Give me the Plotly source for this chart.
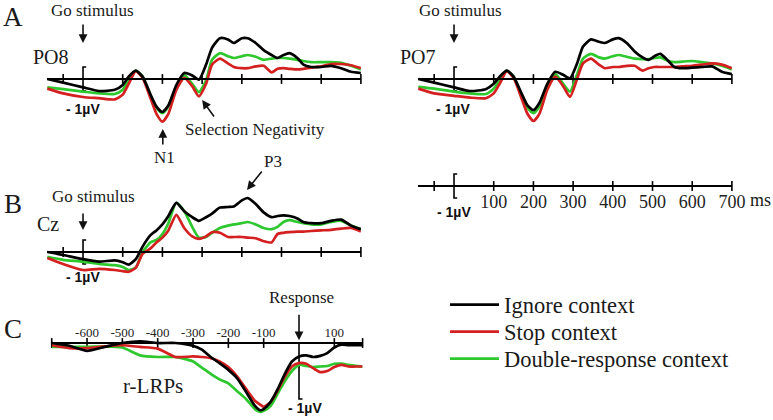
import plotly.graph_objects as go

# ---------------- data ----------------
t_ms = [-90, -50, 0, 40, 80, 100, 115, 133, 150, 170, 185, 200, 215, 235, 255, 275, 292,
        310, 325, 345, 365, 380, 400, 415, 435, 455, 475, 490, 505, 520, 540, 555, 575,
        600, 625, 650, 675, 700]

po8_ignore = [0.0, -0.3, -0.7, -1.0, -0.9, -0.5, 0.2, 0.7, 0.2, -1.3, -2.3, -2.75, -2.2, -0.5, 0.5, 0.3, -0.05,
              1.2, 2.6, 3.4, 3.3, 3.0, 3.4, 3.4, 3.0, 2.4, 2.0, 1.75, 2.0, 2.15, 1.75, 1.2, 1.0,
              1.0, 1.1, 0.9, 0.6, 0.5]
po8_stop = [-0.8, -1.2, -1.5, -1.6, -1.7, -1.3, -0.4, 0.65, 0.1, -1.6, -2.9, -3.55, -2.9, -0.9, 0.1, -0.6, -1.45,
            -0.4, 1.2, 1.7, 1.3, 1.0, 0.9, 0.9, 1.05, 1.1, 0.55, 0.85, 0.9, 0.85, 0.8, 0.85, 0.95,
            1.05, 1.25, 1.25, 1.15, 0.9]
po8_double = [-0.7, -0.85, -1.05, -1.2, -1.25, -0.9, -0.1, 0.7, 0.2, -1.35, -2.4, -2.85, -2.3, -0.7, 0.33, -0.4, -1.1,
              -0.1, 1.6, 2.15, 1.9, 1.75, 1.9, 2.0, 1.85, 1.6, 1.7, 1.75, 1.75, 1.7, 1.6, 1.5, 1.4,
              1.4, 1.4, 1.35, 1.1, 0.8]

po7_ignore = [0.0, -0.3, -0.7, -1.0, -0.85, -0.4, 0.2, 0.7, 0.2, -1.2, -2.2, -2.6, -2.0, -0.4, 0.6, 0.35, 0.05,
              1.3, 2.7, 3.3, 3.1, 3.0, 3.3, 3.4, 3.0, 2.3, 1.8, 1.6, 1.9, 2.1, 1.5, 1.0, 0.9,
              0.95, 1.0, 1.05, 0.6, 0.4]
po7_stop = [-0.8, -1.2, -1.4, -1.55, -1.6, -1.2, -0.4, 0.65, 0.1, -1.6, -2.9, -3.5, -2.9, -0.9, 0.2, -0.6, -1.5,
            0.0, 1.3, 1.7, 1.2, 0.9, 1.0, 1.0, 1.1, 1.1, 0.7, 0.9, 1.0, 1.0, 1.0, 1.0, 1.05,
            1.1, 1.2, 1.3, 1.2, 0.9]
po7_double = [-0.65, -0.8, -1.05, -1.2, -1.25, -0.8, -0.1, 0.7, 0.2, -1.4, -2.4, -2.85, -2.3, -0.6, 0.4, -0.4, -1.05,
              0.4, 1.7, 2.1, 1.8, 1.7, 1.9, 2.0, 1.85, 1.7, 1.65, 1.65, 1.75, 1.8, 1.5, 1.4, 1.45,
              1.5, 1.4, 1.3, 1.1, 0.8]

cz_ignore = [0.0, -0.25, -0.6, -0.8, -0.7, -0.85, -1.05, -0.6, 0.45, 1.4, 1.8, 2.3, 3.0, 4.1, 3.4, 2.9, 2.6,
             2.9, 3.2, 3.7, 3.75, 3.8, 4.3, 4.5, 4.0, 3.3, 2.9, 3.0, 3.05, 3.0, 2.8, 2.5, 2.4,
             2.4, 2.6, 2.7, 2.2, 1.9]
cz_stop = [-0.5, -1.0, -1.5, -1.4, -1.5, -1.6, -1.65, -1.3, -0.15, 0.3, 0.8, 1.2, 1.8, 3.1, 2.0, 1.3, 1.1,
           1.3, 1.65, 1.6, 1.25, 1.25, 1.25, 1.2, 1.15, 0.9, 0.8, 1.5, 1.6, 1.65, 1.7, 1.7, 1.75,
           1.8, 1.85, 1.95, 2.0, 1.7]
cz_double = [-0.4, -0.65, -0.8, -1.0, -1.1, -1.25, -1.5, -1.3, 0.0, 0.8, 1.0, 1.5, 2.4, 4.1, 3.4, 2.1, 1.2,
             1.25, 1.6, 2.0, 2.2, 2.3, 2.4, 2.5, 2.3, 2.0, 1.9, 2.1, 2.5, 2.65, 2.5, 2.4, 2.3,
             2.3, 2.5, 2.6, 2.2, 1.9]

t_resp = [-700, -650, -600, -550, -500, -450, -400, -350, -300, -275, -250, -225, -200, -175, -150,
          -125, -110, -100, -80, -60, -40, -20, 0, 20, 40, 60, 80, 100, 120, 140, 160, 180]
lrp_ignore = [0.0, -0.05, -0.14, -0.07, 0.0, 0.03, 0.0, 0.0, -0.05, -0.12, -0.25, -0.36, -0.48, -0.63, -0.87,
              -1.12, -1.2, -1.18, -1.05, -0.82, -0.55, -0.33, -0.24, -0.22, -0.25, -0.23, -0.18, -0.08, -0.03, -0.04, -0.04, -0.04]
lrp_stop = [-0.04, -0.09, -0.09, -0.06, -0.04, -0.07, -0.1, -0.25, -0.24, -0.25, -0.27, -0.33, -0.43, -0.6, -0.82,
            -1.03, -1.1, -1.14, -1.05, -0.84, -0.6, -0.42, -0.36, -0.37, -0.45, -0.52, -0.5, -0.43, -0.39, -0.42, -0.42, -0.42]
lrp_double = [-0.07, -0.07, -0.07, -0.06, -0.08, -0.22, -0.25, -0.25, -0.33, -0.44, -0.55, -0.65, -0.72, -0.86, -1.0,
              -1.18, -1.23, -1.21, -1.12, -0.9, -0.68, -0.5, -0.39, -0.41, -0.43, -0.42, -0.41, -0.37, -0.37, -0.39, -0.41, -0.42]

series_names = ["Ignore context", "Stop context", "Double-response context"]
series_colors = ["#000000", "#d42020", "#2ec82e"]

stim_ticks = [-50, 100, 200, 300, 400, 500, 600, 700]
scale_labels = [100, 200, 300, 400, 500, 600, 700]
resp_ticks = [-700, -600, -500, -400, -300, -200, -100, 100, 180]
resp_labels = [-600, -500, -400, -300, -200, -100, 100]
calib_uv = 1.0
bracket_w = 8

# ---------------- figure ----------------
W, H = 773, 420
SERIF = "Liberation Serif, Times New Roman, serif"
SANS = "Liberation Sans, Arial, sans-serif"

def px_x(p):
    return p / W

def px_y(p):
    return 1 - p / H

fig = go.Figure()

panels = {
    "po8": dict(ax="", xr=[-92, 700], yr=[-5, 4.5], xd=[46.5, 360.9], yd=[25, 139], zero=79),
    "po7": dict(ax="2", xr=[-92, 700], yr=[-5, 4.5], xd=[417.5, 731.9], yd=[25, 139], zero=79),
    "cz": dict(ax="3", xr=[-92, 700], yr=[-3, 5.5], xd=[46.5, 360.9], yd=[186, 288], zero=252),
    "scale": dict(ax="4", xr=[-92, 700], yr=[-2, 2], xd=[417.5, 731.9], yd=[162, 210], zero=186),
    "lrp": dict(ax="5", xr=[-700, 180], yr=[-1.35, 0.45], xd=[51.7, 362.6], yd=[317.8, 418.6], zero=343),
}

data_sets = {
    "po8": (t_ms, [po8_ignore, po8_stop, po8_double]),
    "po7": (t_ms, [po7_ignore, po7_stop, po7_double]),
    "cz": (t_ms, [cz_ignore, cz_stop, cz_double]),
    "lrp": (t_resp, [lrp_ignore, lrp_stop, lrp_double]),
}
legend_ids = ["legend", "legend2", "legend3"]

for key, p in panels.items():
    a = p["ax"]
    xa = "xaxis" + a
    ya = "yaxis" + a
    xref = "x" + a
    yref = "y" + a
    xaxis = dict(domain=[px_x(p["xd"][0]), px_x(p["xd"][1])], range=p["xr"], anchor="free",
                 position=px_y(p["zero"]), showline=True, linecolor="black", linewidth=1.6,
                 ticks="", showgrid=False, zeroline=False, showticklabels=False, fixedrange=True,
                 automargin=False)
    if key == "scale":
        xaxis.update(showticklabels=True, tickmode="array", tickvals=scale_labels,
                     ticktext=[str(v) for v in scale_labels],
                     tickfont=dict(family=SERIF, size=18, color="#222"))
    if key == "lrp":
        xaxis.update(showticklabels=True, side="top", tickmode="array", tickvals=resp_labels,
                     ticktext=[str(v) for v in resp_labels],
                     tickfont=dict(family=SERIF, size=13, color="#222"))
    yaxis = dict(domain=[px_y(p["yd"][1]), px_y(p["yd"][0])], range=p["yr"], visible=False,
                 fixedrange=True)
    fig.update_layout(**{xa: xaxis, ya: yaxis})

    # tick marks on the axis line
    ticks = resp_ticks if key == "lrp" else stim_ticks
    fig.add_trace(go.Scatter(x=ticks, y=[0] * len(ticks), mode="markers", xaxis=xref, yaxis=yref,
                             marker=dict(symbol="line-ns", size=7, line=dict(width=1.6, color="black")),
                             showlegend=False, hoverinfo="skip", cliponaxis=False))
    # calibration bracket
    if key == "lrp":
        fig.add_trace(go.Scatter(x=[0, 0, bracket_w + 2], y=[0, -calib_uv, -calib_uv], mode="lines",
                                 xaxis=xref, yaxis=yref, line=dict(color="black", width=1.6),
                                 showlegend=False, hoverinfo="skip"))
    else:
        fig.add_trace(go.Scatter(x=[bracket_w, 0, 0, bracket_w], y=[calib_uv, calib_uv, -calib_uv, -calib_uv],
                                 mode="lines", xaxis=xref, yaxis=yref, line=dict(color="black", width=1.6),
                                 showlegend=False, hoverinfo="skip"))

    if key in data_sets:
        tx, ys = data_sets[key]
        for i in [2, 1, 0]:
            fig.add_trace(go.Scatter(x=tx, y=ys[i], mode="lines", xaxis=xref, yaxis=yref,
                                     name=series_names[i], legend=legend_ids[i],
                                     line=dict(color=series_colors[i], width=2.7, shape="spline", smoothing=0.6),
                                     showlegend=(key == "po8"), hoverinfo="skip"))

# ---------------- text ----------------
def label(text, cx, cy, size, family=SERIF, color="#1a1a1a"):
    fig.add_annotation(x=px_x(cx), y=px_y(cy), xref="paper", yref="paper", text=text, showarrow=False,
                       xanchor="center", yanchor="middle", font=dict(family=family, size=size, color=color))

label("A", 13, 17, 27)
label("B", 13, 204, 27)
label("C", 13, 329, 27)
label("Go stimulus", 92, 10, 17)
label("Go stimulus", 461, 10, 17)
label("Go stimulus", 93, 196, 17)
label("PO8", 51, 57, 20)
label("PO7", 418, 57, 20)
label("Cz", 48, 224, 20)
label("r-LRPs", 153, 386, 21)
label("Selection Negativity", 255, 129, 17)
label("N1", 164, 157, 17)
label("P3", 273, 161, 17)
label("Response", 301, 297, 17)
label("ms", 760, 200, 18)
for cx, cy in [(83, 109), (453, 109), (83, 277), (454, 212), (305, 408)]:
    label("<b>- 1µV</b>", cx, cy, 14, family=SANS, color="#111")

# ---------------- arrows ----------------
def arrow(xr, yr, x, y, ax, ay):
    fig.add_annotation(x=x, y=y, xref=xr, yref=yr, ax=ax, ay=ay, text="", showarrow=True,
                       arrowhead=2, arrowsize=1.1, arrowwidth=1.6, arrowcolor="#111")

arrow("x", "y", 0, 3.0, 0, -20)
arrow("x2", "y2", 0, 3.0, 0, -20)
arrow("x3", "y3", 0, 1.83, 0, -18)
arrow("x", "y", 201, -4.17, 0, 17)
arrow("x", "y", 300, -1.75, 13, 18)
arrow("x3", "y3", 413, 5.17, 16, -20)
arrow("x5", "y5", 0, 0.05, 0, -27)

legend_style = dict(xanchor="left", yanchor="middle", itemwidth=49, bgcolor="rgba(0,0,0,0)",
                    font=dict(family=SERIF, size=22.5, color="#1a1a1a"))
fig.update_layout(
    width=W, height=H, margin=dict(l=0, r=0, t=0, b=0, autoexpand=False),
    paper_bgcolor="white", plot_bgcolor="rgba(0,0,0,0)",
    showlegend=True,
    legend=dict(x=px_x(445), y=px_y(305), **legend_style),
    legend2=dict(x=px_x(445), y=px_y(332), **legend_style),
    legend3=dict(x=px_x(445), y=px_y(359), **legend_style),
)

post = ("document.body.style.margin='0';document.body.style.overflow='hidden';"
        "Plotly.relayout(document.getElementById('{plot_id}'),{width:773,height:420});")
fig.write_html("out.html", config={"responsive": False, "displayModeBar": False}, post_script=post)
